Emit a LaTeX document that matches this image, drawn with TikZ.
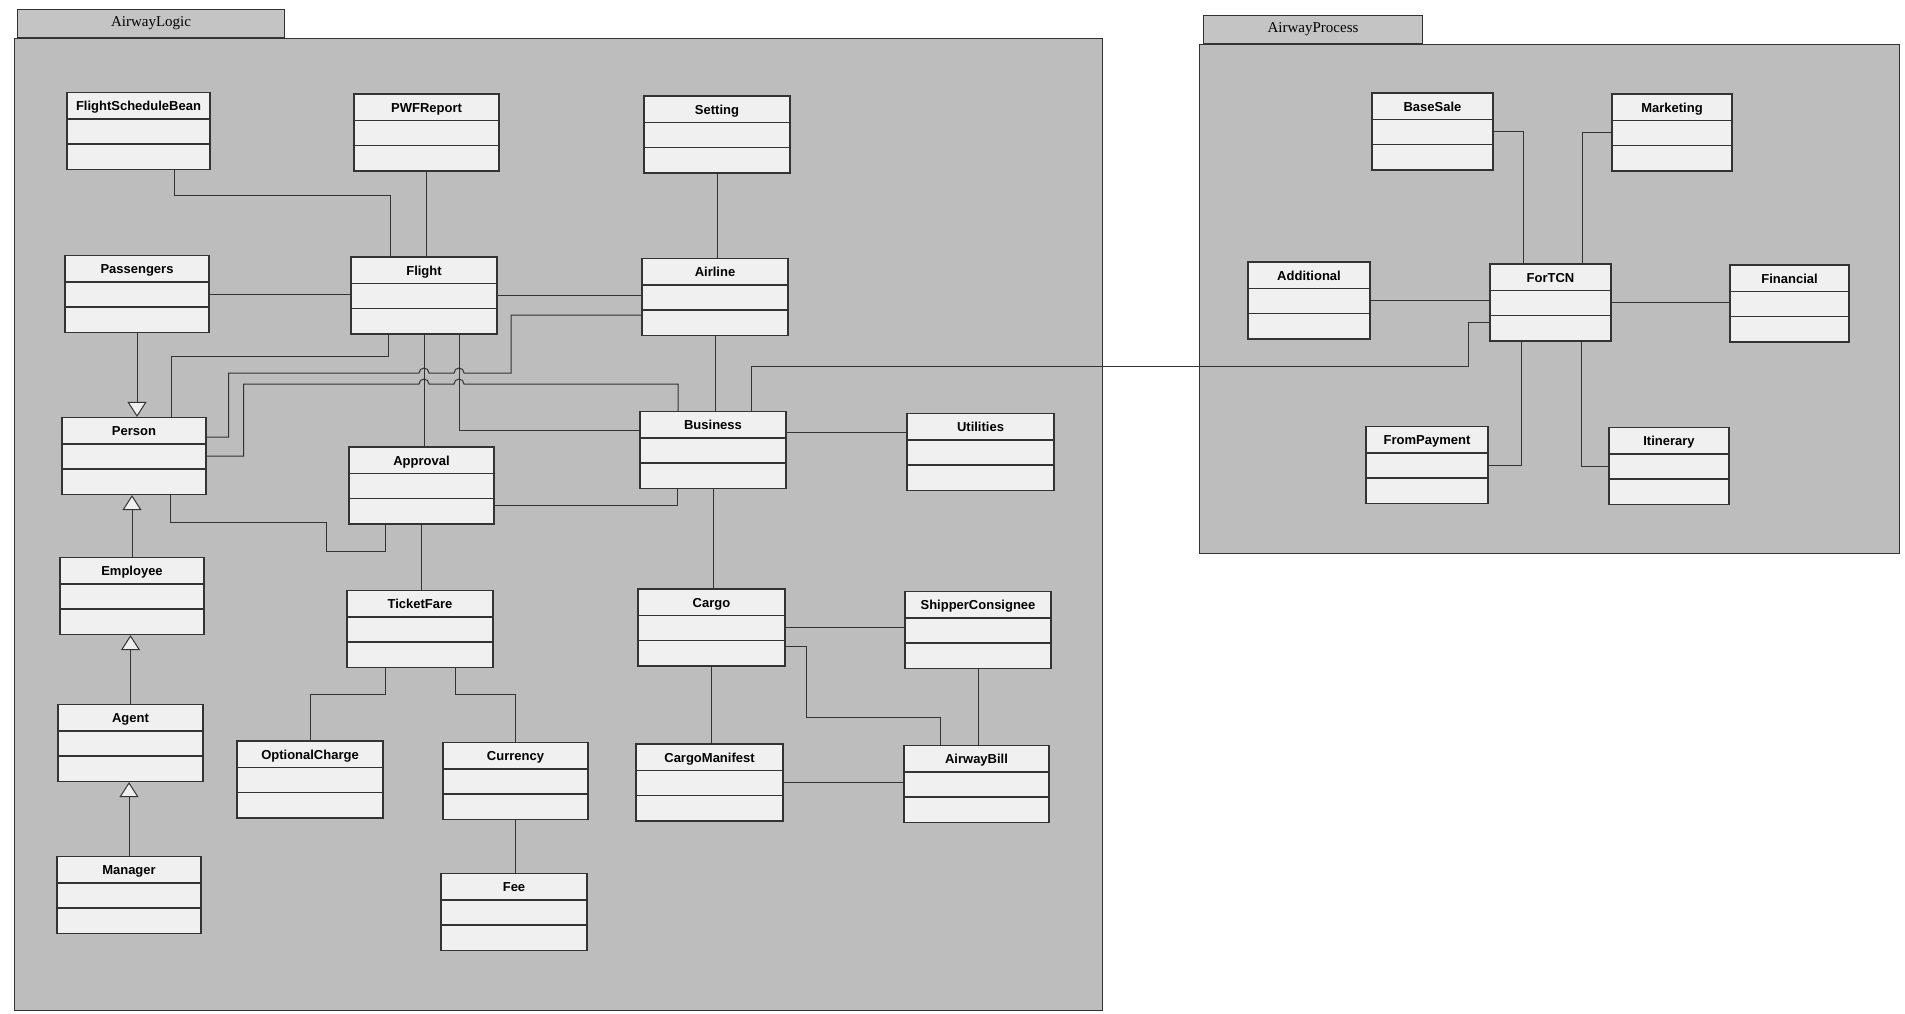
\documentclass[tikz,border=0pt]{standalone}
\usepackage{fontspec}
\setmainfont{Liberation Serif}
\newfontfamily\classfont{Liberation Sans}
\usetikzlibrary{arrows.meta}

\definecolor{pkgfill}{gray}{0.74}
\definecolor{tabfill}{gray}{0.77}
\definecolor{boxfill}{gray}{0.94}
\definecolor{linecol}{gray}{0.2}

\begin{document}
\begin{tikzpicture}[x=1pt, y=-1pt,
    classbox/.style={draw=linecol, line width=1.2pt, fill=boxfill, inner sep=0pt,
        text height=18pt, text depth=59pt, font=\classfont\bfseries\fontsize{13}{15}\selectfont},
    classline/.style={draw=linecol, line width=1.2pt},
    pkgbody/.style={draw=linecol, line width=1pt, fill=pkgfill},
    pkgtab/.style={draw=linecol, line width=1pt, fill=tabfill, inner sep=0pt,
        minimum height=28pt, anchor=south west, font=\fontsize{15}{17}\selectfont},
    assoc/.style={draw=linecol, line width=1pt},
    inherit/.style={assoc, -{Triangle[length=15pt, width=19pt, fill=boxfill]}}]
    % 全体の大きさ
    \useasboundingbox (0,0) rectangle (1905,1013);
    \fill[white] (0,0) rectangle (1905,1013);

    % パッケージを描画
    \draw[pkgbody] (14,38) rectangle (1102,1010);
    \node[pkgtab, minimum width=267pt] (logictab) at (17,38) {AirwayLogic};
    \draw[pkgbody] (1199,44) rectangle (1899,553);
    \node[pkgtab, minimum width=219pt] (processtab) at (1203,44) {AirwayProcess};

    % クラスを配置（名前/中心x/中心y/幅）
    \foreach \name/\x/\y/\w in {
        FlightScheduleBean/138.5/131/143, PWFReport/426.5/132.5/145, Setting/717/134.5/146,
        Passengers/137/294/144, Flight/424/295.5/146, Airline/715/297/146,
        Person/134/456/144, Approval/421.5/485.5/145, Business/713/450/146,
        Utilities/980.5/452/147, Employee/132/596/144, TicketFare/420/629/146,
        Cargo/711.5/627.5/147, ShipperConsignee/978/630/146, Agent/130.5/743/145,
        OptionalCharge/310/779.5/146, Currency/515.5/781/145, CargoManifest/709.5/782.5/147,
        AirwayBill/976.5/784/145, Manager/129/895/144, Fee/514/912/146,
        BaseSale/1432.5/131.5/121, Marketing/1672/132.5/120, Additional/1309/300.5/122,
        ForTCN/1550.5/302.5/121, Financial/1789.5/303.5/119, FromPayment/1427/465/122,
        Itinerary/1669/466/120} {
        \node[classbox, minimum width=\w pt] (\name) at (\x,\y) {\name};
        \draw[classline] ([yshift=-27pt]\name.north west) -- ([yshift=-27pt]\name.north east);
        \draw[classline] ([yshift=-52pt]\name.north west) -- ([yshift=-52pt]\name.north east);
    }

    % 継承
    \draw[inherit] (Passengers.south) -- (Passengers.south |- Person.north);
    \draw[inherit] (Employee.north) -- (Employee.north |- Person.south);
    \draw[inherit] (Agent.north) -- (Agent.north |- Employee.south);
    \draw[inherit] (Manager.north) -- (Manager.north |- Agent.south);

    % 関連（上段）
    \draw[assoc] ([xshift=35.5pt]FlightScheduleBean.south) -- ++(0,25) -| ([xshift=-34pt]Flight.north);
    \draw[assoc] (PWFReport.south) -- (PWFReport.south |- Flight.north);
    \draw[assoc] (Setting.south) -- (Setting.south |- Airline.north);
    \draw[assoc] (Passengers.east) -- (Passengers.east -| Flight.west);
    \draw[assoc] (Flight.east) -- (Flight.east -| Airline.west);
    \draw[assoc] ([xshift=-36pt]Flight.south) -- ++(0,22) -| ([xshift=37pt]Person.north);
    \draw[assoc] (Flight.south) -- (Flight.south |- Approval.north);
    \draw[assoc] ([xshift=35pt]Flight.south) |- ([yshift=20pt]Business.west);
    \draw[assoc] (Airline.south) -- (Airline.south |- Business.north);

    % 飛び越し線
    \draw[assoc] ([yshift=19pt]Person.east) -- ++(22,0) |- (419,373)
        arc[start angle=180, end angle=360, radius=5] -- (454,373)
        arc[start angle=180, end angle=360, radius=5] -- (511,373)
        |- ([yshift=-18pt]Airline.west);
    \draw[assoc] (Person.east) -- ++(37,0) |- (419,384)
        arc[start angle=180, end angle=360, radius=5] -- (454,384)
        arc[start angle=180, end angle=360, radius=5]
        -| ([xshift=-35pt]Business.north);

    % 関連（中段・下段）
    \draw[assoc] ([xshift=36pt]Person.south) -- ++(0,27) -| (326,551) -| ([xshift=-36pt]Approval.south);
    \draw[assoc] ([xshift=-36pt]Business.south) |- ([yshift=-20pt]Approval.east);
    \draw[assoc] ([yshift=18pt]Business.east) -- ([yshift=18pt]Business.east -| Utilities.west);
    \draw[assoc] (Business.south) -- (Business.south |- Cargo.north);
    \draw[assoc] ([xshift=38pt]Business.north) |- (1468,366) |- ([yshift=-20pt]ForTCN.west);
    \draw[assoc] (Approval.south) -- (Approval.south |- TicketFare.north);
    \draw[assoc] ([xshift=-35pt]TicketFare.south) -- ++(0,26) -| (OptionalCharge.north);
    \draw[assoc] ([xshift=35pt]TicketFare.south) -- ++(0,26) -| (Currency.north);
    \draw[assoc] (Currency.south) -- (Currency.south |- Fee.north);
    \draw[assoc] (Cargo.east) -- (Cargo.east -| ShipperConsignee.west);
    \draw[assoc] ([yshift=-19pt]Cargo.east) -| (806,717) -| ([xshift=-36pt]AirwayBill.north);
    \draw[assoc] (ShipperConsignee.south) -- (ShipperConsignee.south |- AirwayBill.north);
    \draw[assoc] (Cargo.south) -- (Cargo.south |- CargoManifest.north);
    \draw[assoc] (CargoManifest.east) -- (CargoManifest.east -| AirwayBill.west);

    % AirwayProcess 内の関連
    \draw[assoc] (BaseSale.east) -| ([xshift=-27pt]ForTCN.north);
    \draw[assoc] (Marketing.west) -| ([xshift=32pt]ForTCN.north);
    \draw[assoc] (Additional.east) -- (Additional.east -| ForTCN.west);
    \draw[assoc] (ForTCN.east) -- (ForTCN.east -| Financial.west);
    \draw[assoc] ([xshift=-29pt]ForTCN.south) |- (FromPayment.east);
    \draw[assoc] ([xshift=31pt]ForTCN.south) |- (Itinerary.west);
    %
\end{tikzpicture}
\end{document}
